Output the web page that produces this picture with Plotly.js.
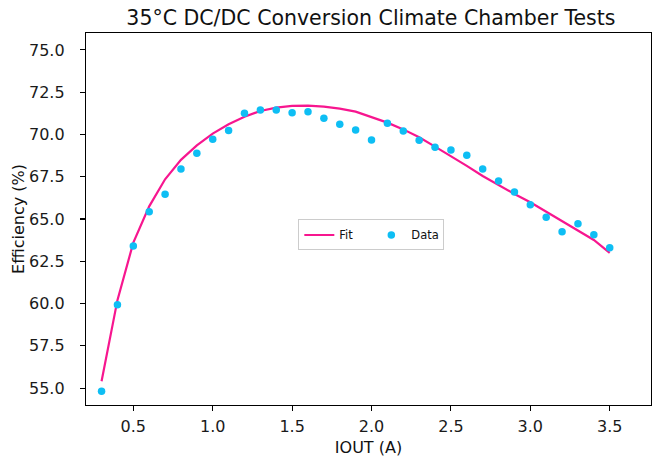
<!DOCTYPE html>
<html>
<head>
<meta charset="utf-8">
<script src="https://cdn.plot.ly/plotly-3.0.1.min.js"></script>
<style>html,body{margin:0;padding:0;background:#fff;}#chart{width:653px;height:459px;}</style>
</head>
<body>
<div id="chart"></div>
<script>
const iout = [0.3,0.4,0.5,0.6,0.7,0.8,0.9,1.0,1.1,1.2,1.3,1.4,1.5,1.6,1.7,1.8,1.9,2.0,2.1,2.2,2.3,2.4,2.5,2.6,2.7,2.8,2.9,3.0,3.1,3.2,3.3,3.4,3.5];
const efficiencyData = [54.82,59.93,63.4,65.43,66.46,67.96,68.89,69.72,70.23,71.25,71.45,71.45,71.29,71.35,70.96,70.6,70.27,69.67,70.66,70.2,69.66,69.24,69.08,68.77,67.96,67.25,66.6,65.85,65.1,64.25,64.72,64.07,63.3];
const efficiencyFit = [55.4,60.2,63.6,65.75,67.35,68.5,69.35,70.05,70.6,71.05,71.39,71.59,71.69,71.71,71.65,71.53,71.35,71.02,70.7,70.3,69.83,69.28,68.73,68.14,67.54,67.0,66.48,65.99,65.43,64.88,64.35,63.76,63.0];
const yTicks = [55.0,57.5,60.0,62.5,65.0,67.5,70.0,72.5,75.0];
const xTicks = [0.5,1.0,1.5,2.0,2.5,3.0,3.5];

const font = "DejaVu Sans, sans-serif";
const traces = [
  {x: iout, y: efficiencyFit, type: 'scatter', mode: 'lines', name: 'Fit',
   line: {color: '#F7168F', width: 2.2}},
  {x: iout, y: efficiencyData, type: 'scatter', mode: 'markers', name: 'Data',
   marker: {color: '#0EBEF4', size: 7.5}}
];
const axisCommon = {
  showgrid: false, zeroline: false, showline: true, mirror: true,
  linecolor: '#000', linewidth: 1.2, ticks: 'outside', ticklen: 5, tickwidth: 1.1,
  tickcolor: '#000', tickfont: {family: font, size: 16, color: '#1a1a1a'}
};
const layout = {
  width: 653, height: 459,
  margin: {l: 86, r: 2, t: 33, b: 54},
  paper_bgcolor: '#fff', plot_bgcolor: '#fff',
  title: {text: '35°C DC/DC Conversion Climate Chamber Tests', font: {family: font, size: 20.5, color: '#111'},
          x: 0.568, xanchor: 'center', y: 0.962, yanchor: 'middle'},
  xaxis: Object.assign({}, axisCommon, {range: [0.202, 3.76], tickvals: xTicks, ticktext: xTicks.map(v => v.toFixed(1)),
    ticklabelstandoff: 2,
    title: {text: 'IOUT (A)', font: {family: font, size: 16, color: '#111'}, standoff: 6}}),
  yaxis: Object.assign({}, axisCommon, {range: [54.0, 76.0], tickvals: yTicks, ticktext: yTicks.map(v => v.toFixed(1)),
    ticklabelstandoff: 12,
    title: {text: 'Efficiency (%)', font: {family: font, size: 16, color: '#111'}, standoff: 0}}),
  showlegend: true,
  legend: {orientation: 'h', x: 0.505, y: 0.457, xanchor: 'center', yanchor: 'middle',
    bgcolor: 'rgba(255,255,255,0.8)', bordercolor: '#cccccc', borderwidth: 1,
    font: {family: font, size: 11.5, color: '#111'}, itemwidth: 30, entrywidth: 27, traceorder: 'normal'}
};
Plotly.newPlot('chart', traces, layout, {displayModeBar: false, staticPlot: true});
</script>
</body>
</html>
